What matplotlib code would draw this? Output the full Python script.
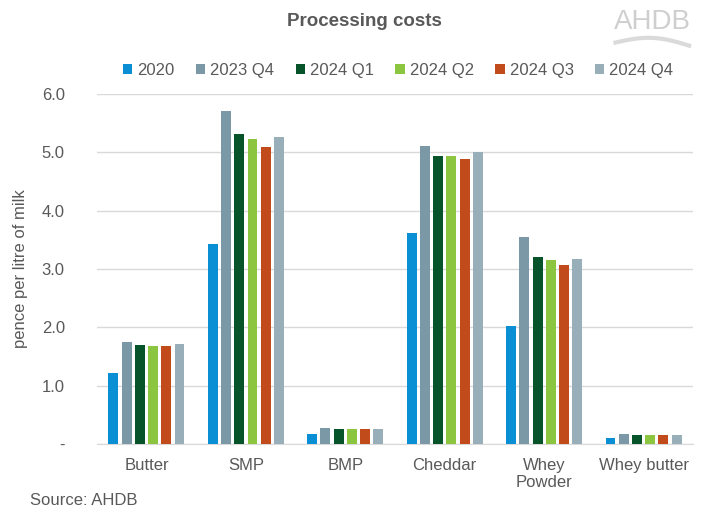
import matplotlib.pyplot as plt
import numpy as np

plt.rcParams["font.family"] = ["Liberation Sans", "DejaVu Sans"]

# data
products = ["Butter", "SMP", "BMP", "Cheddar", "Whey\nPowder", "Whey butter"]
periods = ["2020", "2023 Q4", "2024 Q1", "2024 Q2", "2024 Q3", "2024 Q4"]
cost_2020 = [1.22, 3.43, 0.17, 3.61, 2.02, 0.10]
cost_2023q4 = [1.75, 5.71, 0.28, 5.10, 3.54, 0.17]
cost_2024q1 = [1.70, 5.31, 0.26, 4.93, 3.21, 0.15]
cost_2024q2 = [1.68, 5.22, 0.26, 4.93, 3.15, 0.15]
cost_2024q3 = [1.68, 5.09, 0.25, 4.89, 3.06, 0.15]
cost_2024q4 = [1.71, 5.26, 0.26, 5.00, 3.17, 0.15]
yticks = [0, 1, 2, 3, 4, 5, 6]
ytick_labels = ["-", "1.0", "2.0", "3.0", "4.0", "5.0", "6.0"]

series = [cost_2020, cost_2023q4, cost_2024q1, cost_2024q2, cost_2024q3, cost_2024q4]
colors = ["#0a8fd5", "#7b98a7", "#07532a", "#8cc641", "#c14b1b", "#98afba"]

text_grey = "#595959"
grid_grey = "#d9d9d9"

fig = plt.figure(figsize=(7.01, 5.19), dpi=100)
ax = fig.add_axes([0.138, 0.1445, 0.851, 0.6745])

x = np.arange(len(products))
pitch = 0.133
width = 0.10
for i, (vals, col, lab) in enumerate(zip(series, colors, periods)):
    ax.bar(x + (i - 2.5) * pitch, vals, width=width, color=col, label=lab, zorder=3)

ax.set_xlim(-0.5, len(products) - 0.5)
ax.set_ylim(0, 6)
ax.set_yticks(yticks)
ax.set_yticklabels(ytick_labels)
ax.set_xticks(x)
ax.set_xticklabels(products, linespacing=1.15)
ax.tick_params(axis="both", length=0, labelsize=12, colors=text_grey)
ax.tick_params(axis="y", pad=23)
ax.tick_params(axis="x", pad=10)
ax.grid(axis="y", color=grid_grey, linewidth=1, zorder=0)
for side in ["top", "right", "left"]:
    ax.spines[side].set_visible(False)
ax.spines["bottom"].set_color(grid_grey)
ax.set_ylabel("pence per litre of milk", fontsize=12, color=text_grey, labelpad=10)

ax.legend(loc="center", bbox_to_anchor=(0.505, 1.066), ncol=6, frameon=False,
          fontsize=12, handlelength=0.55, handleheight=0.55, handletextpad=0.3,
          columnspacing=1.3, labelcolor=text_grey)

fig.text(0.52, 0.958, "Processing costs", ha="center", va="center",
         fontsize=13.5, fontweight="bold", color=text_grey)
fig.text(0.043, 0.035, "Source: AHDB", ha="left", va="center",
         fontsize=12, color=text_grey)

# logo
fig.text(0.931, 0.958, "AHDB", ha="center", va="center", fontsize=20,
         color="#cfcfcf")
t = np.linspace(0, 1, 50)
wave_x = 0.878 + 0.105 * t
wave_y = 0.918 + 0.012 * np.sin(np.pi * t) - 0.006 * t
fig.lines.append(plt.Line2D(wave_x, wave_y, transform=fig.transFigure,
                            color="#dadada", linewidth=3))

fig.savefig("out.png", dpi=100)
